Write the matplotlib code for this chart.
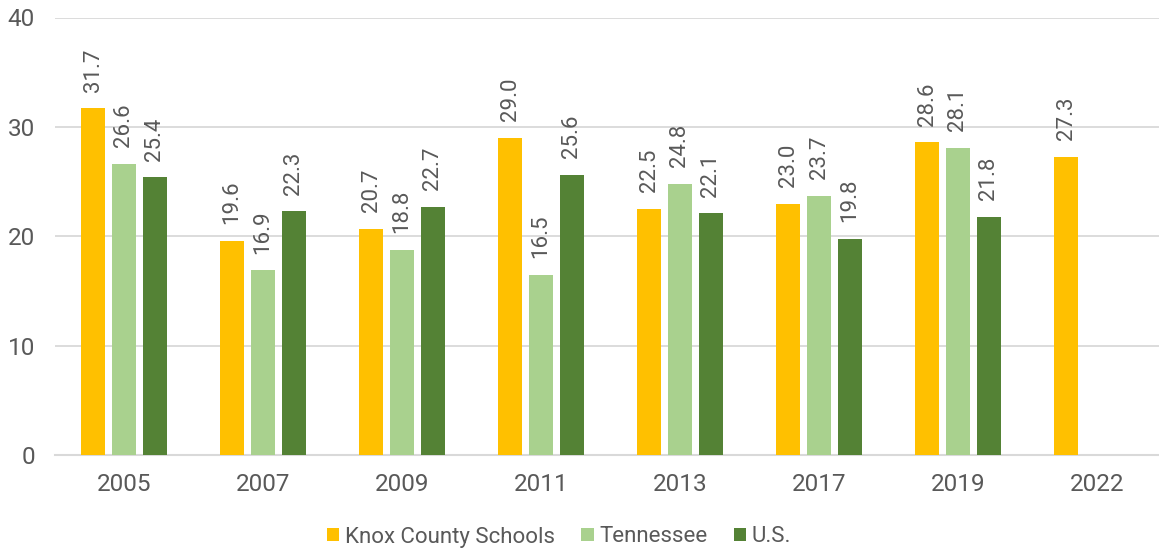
import matplotlib
matplotlib.use("Agg")
import matplotlib.pyplot as plt
import numpy as np
from matplotlib.patches import Patch

plt.rcParams['font.family'] = ['Roboto', 'DejaVu Sans']

years = ["2005", "2007", "2009", "2011", "2013", "2017", "2019", "2022"]
knox = [31.7, 19.6, 20.7, 29.0, 22.5, 23.0, 28.6, 27.3]
tennessee = [26.6, 16.9, 18.8, 16.5, 24.8, 23.7, 28.1, None]
us = [25.4, 22.3, 22.7, 25.6, 22.1, 19.8, 21.8, None]

series = [("Knox County Schools", knox, "#FFC000"),
          ("Tennessee", tennessee, "#A9D18E"),
          ("U.S.", us, "#548235")]

text_color = "#595959"
grid_color = "#D9D9D9"

fig = plt.figure(figsize=(11.59, 5.52), dpi=100)
ax = fig.add_axes([54.5 / 1159, 96.7 / 552, 1112 / 1159, 437.8 / 552])

x = np.arange(len(years))
width = 0.173
offset = 0.223
for i, (name, vals, color) in enumerate(series):
    pos = x + (i - 1) * offset
    for xp, v in zip(pos, vals):
        if v is None:
            continue
        ax.bar(xp, v, width=width, color=color, zorder=3)
        ax.annotate(f"{v:.1f}", (xp, v), xytext=(0, 12), textcoords="offset points",
                    rotation=90, ha="center", va="bottom", fontsize=16,
                    color=text_color)

ax.set_xlim(-0.5, len(years) - 0.5)
ax.set_ylim(0, 40)
ax.set_yticks([0, 10, 20, 30, 40])
ax.set_xticks(x)
ax.set_xticklabels(years)
ax.yaxis.grid(True, color=grid_color, linewidth=1.3, zorder=0)
ax.set_axisbelow(True)
for s in ["top", "right", "left"]:
    ax.spines[s].set_visible(False)
ax.spines["bottom"].set_color(grid_color)
ax.spines["bottom"].set_linewidth(1.5)
ax.tick_params(axis="both", length=0, labelsize=17.5, colors=text_color)
ax.tick_params(axis="y", pad=14)
ax.tick_params(axis="x", pad=13)

handles = [Patch(facecolor=c, label=n) for n, _, c in series]
fig.legend(handles=handles, loc="center", bbox_to_anchor=(559 / 1159, 1 - 537 / 552),
           ncol=3, frameon=False, fontsize=16, labelcolor=text_color,
           handlelength=0.55, handleheight=0.55, handletextpad=0.25, columnspacing=1.2)

fig.savefig("out.png", dpi=100)
